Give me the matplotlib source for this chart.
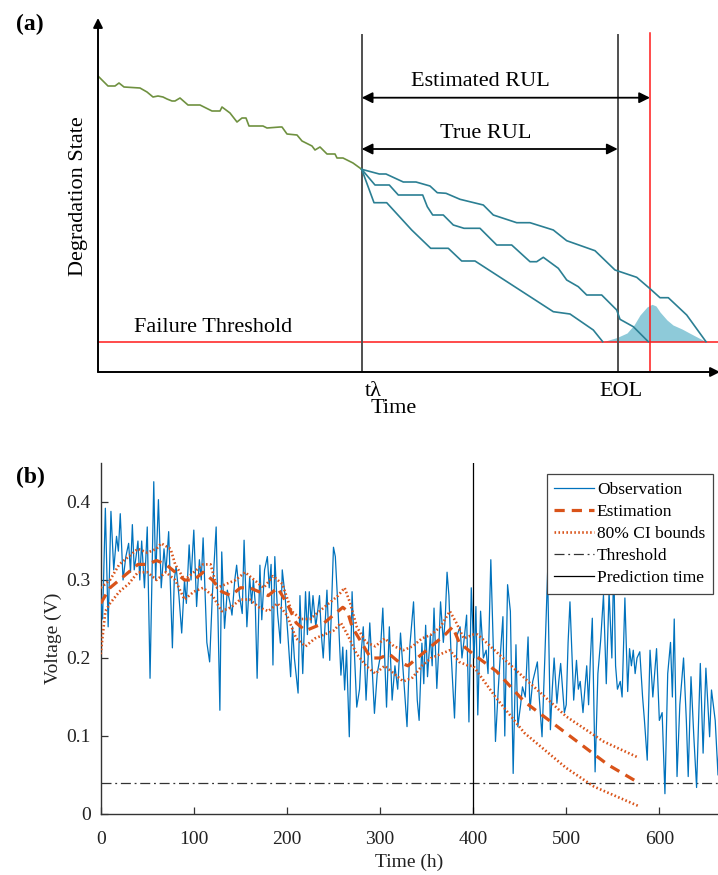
import matplotlib
matplotlib.use('Agg')
import matplotlib.pyplot as plt

plt.rcParams['font.family'] = ['Liberation Serif', 'DejaVu Serif']

# ---------------- Panel (a): schematic data (time units, state units) ----------------
hist_t = [0, 10, 17, 21, 26, 42, 49, 55, 60, 65, 69, 74, 77, 82, 90, 102, 114, 122, 124, 132,
          139, 144, 148, 151, 165, 169, 182, 184, 189, 199, 204, 214, 217, 222, 229, 237, 239,
          245, 255, 263.7]
hist_s = [296, 286, 286, 289, 285, 284, 280, 275, 276, 275, 273, 271, 271, 274, 267, 267, 261,
          261, 265, 259, 250, 254, 254, 246, 246, 244, 245, 245, 238, 237, 231, 226, 222, 225,
          218, 218, 214, 214, 209, 202.7]

path1_t = [263.7, 281.3, 288, 305.3, 318, 332, 339.3, 348, 362, 385.3, 395.3, 418.7, 432, 455.3,
           468.7, 497, 517, 538.7, 552, 562, 570.3, 588.7, 608]
path1_s = [202.7, 198, 198, 190, 190, 186, 179.3, 178.7, 172.7, 167, 157, 149.3, 149.3, 142,
           131.3, 121.3, 102, 94.7, 83.3, 74.3, 74.3, 57, 30.3]
path2_t = [263.7, 277, 291.3, 300.3, 324.7, 329.3, 334.7, 345.3, 355.3, 366, 382, 398.7, 413.7,
           432, 438.7, 445.3, 460.3, 468.7, 480.3, 488.7, 503.7, 518.7, 522, 535.3, 550.3]
path2_s = [202.7, 187, 187, 177, 177, 165.3, 157, 157, 147, 143.7, 143.7, 127, 127, 110.3,
           110.3, 114.7, 103.7, 92, 85.3, 77, 77, 62, 52.7, 45.3, 30.3]
path3_t = [263.7, 276, 288.7, 313.7, 332.7, 350.3, 363.7, 377, 455.3, 472, 495.3, 504.7]
path3_s = [202.7, 169.3, 169.3, 142, 123.7, 123.7, 111, 111, 60.3, 58, 42, 30.3]

pdf_t = [505, 509, 519, 529, 536, 542, 549, 554, 558, 562, 569, 575, 584, 592, 600, 608]
pdf_s = [30.3, 31.5, 34.5, 39, 47, 57, 65, 67.7, 66, 60, 52, 47, 43, 38.7, 34.5, 30.3]

threshold_a = 30.3
t_lambda = 263.7
t_eol = 519.7
t_est_eol = 552.0

# ---------------- Panel (b): battery voltage data ----------------
obs_time = [0, 2, 5, 8, 11, 14, 17, 19, 21, 24, 27, 30, 32, 34, 36, 38, 40, 42, 44, 47, 50, 53,
            57, 59, 62, 65, 68, 70, 73, 77, 79, 81, 84, 87, 90, 92, 95, 97, 100, 103, 106, 108,
            110, 114, 117, 120, 124, 128, 130, 133, 136, 139, 141, 144, 146, 149, 152, 154, 157,
            160, 162, 164, 166, 168, 171, 173, 176, 179, 181, 183, 185, 187, 190, 193, 195, 198,
            201, 204, 206, 208, 212, 214, 217, 220, 222, 224, 226, 228, 231, 235, 237, 239, 243,
            246, 250, 252, 255, 258, 260, 262, 264, 267, 270, 272, 275, 278, 280, 282, 285, 289,
            291, 294, 297, 300, 303, 307, 310, 313, 316, 319, 322, 325, 329, 332, 336, 340, 342,
            345, 347, 349, 351, 354, 356, 358, 361, 363, 365, 368, 370, 372, 374, 376, 380, 383,
            386, 388, 390, 393, 395.5, 398, 401, 403, 405, 408, 411, 414, 416, 419, 422, 424, 427,
            429, 432, 434, 437, 440, 443, 446, 448, 451, 453, 456, 459, 461, 464, 466, 469, 471,
            474, 477, 480, 483, 485, 487, 490, 492, 494, 498, 500, 502, 504, 508, 511, 513, 515,
            518, 520, 522, 524, 526, 528, 531, 534, 537, 540, 543, 546, 549, 551, 553, 555, 558,
            560, 563, 566, 568, 570, 572, 574, 576, 579, 582, 584, 587, 590, 593, 597, 600, 603,
            606, 609, 612, 614, 616, 619, 622, 624, 626, 629, 631, 634, 637, 640, 644, 647, 650,
            654, 656, 660, 663, 665]
obs_voltage = [0.28, 0.25, 0.392, 0.24, 0.388, 0.313, 0.356, 0.337, 0.385, 0.30, 0.33, 0.347,
               0.31, 0.371, 0.313, 0.33, 0.35, 0.30, 0.35, 0.29, 0.368, 0.174, 0.426, 0.30, 0.403,
               0.29, 0.34, 0.31, 0.362, 0.213, 0.30, 0.317, 0.28, 0.232, 0.30, 0.27, 0.345, 0.30,
               0.364, 0.266, 0.326, 0.30, 0.354, 0.22, 0.195, 0.283, 0.368, 0.133, 0.336, 0.238,
               0.287, 0.27, 0.255, 0.30, 0.319, 0.28, 0.257, 0.351, 0.24, 0.304, 0.27, 0.30, 0.27,
               0.174, 0.319, 0.249, 0.313, 0.33, 0.29, 0.32, 0.191, 0.33, 0.257, 0.219, 0.313,
               0.28, 0.23, 0.176, 0.24, 0.20, 0.155, 0.28, 0.18, 0.285, 0.23, 0.285, 0.245, 0.28,
               0.24, 0.28, 0.23, 0.20, 0.287, 0.197, 0.342, 0.33, 0.26, 0.178, 0.214, 0.159, 0.21,
               0.099, 0.285, 0.22, 0.137, 0.16, 0.21, 0.24, 0.146, 0.245, 0.20, 0.129, 0.18, 0.20,
               0.264, 0.137, 0.24, 0.146, 0.19, 0.16, 0.232, 0.18, 0.112, 0.215, 0.272, 0.146,
               0.12, 0.219, 0.167, 0.242, 0.176, 0.229, 0.19, 0.264, 0.161, 0.21, 0.272, 0.22,
               0.25, 0.31, 0.28, 0.214, 0.123, 0.23, 0.24, 0.20, 0.22, 0.255, 0.118, 0.29, 0.20,
               0.266, 0.127, 0.26, 0.20, 0.21, 0.18, 0.326, 0.20, 0.093, 0.16, 0.20, 0.253, 0.10,
               0.294, 0.26, 0.052, 0.217, 0.112, 0.14, 0.163, 0.15, 0.227, 0.133, 0.17, 0.18,
               0.195, 0.15, 0.099, 0.20, 0.31, 0.108, 0.16, 0.20, 0.142, 0.17, 0.193, 0.13, 0.14,
               0.22, 0.272, 0.146, 0.197, 0.16, 0.17, 0.13, 0.16, 0.19, 0.14, 0.20, 0.251, 0.054,
               0.18, 0.223, 0.281, 0.167, 0.285, 0.20, 0.32, 0.19, 0.16, 0.17, 0.15, 0.277, 0.157,
               0.212, 0.19, 0.21, 0.18, 0.20, 0.208, 0.15, 0.12, 0.069, 0.21, 0.15, 0.212, 0.12,
               0.13, 0.026, 0.18, 0.22, 0.15, 0.25, 0.048, 0.14, 0.17, 0.20, 0.12, 0.048, 0.176,
               0.10, 0.034, 0.193, 0.078, 0.187, 0.099, 0.159, 0.12, 0.05, 0.13]

est_time = [0, 5, 10, 20, 30, 40, 50, 60, 70, 80, 90, 100, 110, 120, 130, 140, 150, 160, 170,
            180, 190, 200, 210, 220, 230, 240, 250, 260, 265, 270, 280, 290, 300, 310, 320, 330,
            340, 350, 360, 370, 378, 385, 390, 400, 425, 455, 505, 545, 575]
est_voltage = [0.27, 0.28, 0.29, 0.30, 0.31, 0.32, 0.32, 0.325, 0.32, 0.31, 0.30, 0.30, 0.31,
               0.30, 0.285, 0.28, 0.29, 0.29, 0.285, 0.28, 0.29, 0.27, 0.245, 0.235, 0.24, 0.245,
               0.255, 0.265, 0.26, 0.24, 0.22, 0.20, 0.20, 0.205, 0.195, 0.19, 0.20, 0.21, 0.22,
               0.23, 0.24, 0.22, 0.215, 0.205, 0.183, 0.144, 0.099, 0.063, 0.042]

upper_time = [0, 10, 20, 30, 40, 50, 60, 65, 75, 80, 90, 100, 110, 118, 125, 135, 145, 155,
              165, 175, 185, 195, 205, 215, 225, 235, 245, 255, 262, 268, 275, 285, 295, 305,
              315, 325, 335, 345, 355, 365, 375, 382, 390, 400, 405, 450, 500, 540, 578]
upper_voltage = [0.29, 0.30, 0.32, 0.33, 0.34, 0.335, 0.34, 0.347, 0.34, 0.32, 0.30, 0.31,
                 0.32, 0.32, 0.29, 0.295, 0.30, 0.31, 0.30, 0.29, 0.305, 0.295, 0.26, 0.25, 0.25,
                 0.26, 0.27, 0.28, 0.29, 0.27, 0.24, 0.22, 0.215, 0.225, 0.215, 0.21, 0.215,
                 0.225, 0.23, 0.24, 0.26, 0.245, 0.225, 0.23, 0.23, 0.18, 0.125, 0.093, 0.072]

lower_time = [0, 5, 10, 20, 30, 40, 50, 60, 70, 80, 90, 100, 110, 120, 130, 140, 150, 160, 170,
              180, 190, 200, 210, 220, 230, 240, 250, 258, 265, 275, 285, 295, 305, 315, 325,
              335, 345, 355, 365, 375, 385, 395, 400, 424, 455, 500, 530, 578]
lower_voltage = [0.205, 0.26, 0.27, 0.285, 0.295, 0.31, 0.31, 0.30, 0.31, 0.30, 0.275, 0.285,
                 0.29, 0.28, 0.26, 0.265, 0.275, 0.275, 0.265, 0.26, 0.27, 0.255, 0.225, 0.215,
                 0.225, 0.23, 0.235, 0.245, 0.23, 0.205, 0.19, 0.18, 0.19, 0.18, 0.17, 0.175,
                 0.19, 0.20, 0.205, 0.21, 0.195, 0.19, 0.19, 0.15, 0.104, 0.059, 0.035, 0.01]

threshold_b = 0.04
prediction_time = 400
x_ticks = [0, 100, 200, 300, 400, 500, 600]
y_ticks = [0, 0.1, 0.2, 0.3, 0.4]
y_tick_labels = ['0', '0.1', '0.2', '0.3', '0.4']

# ---------------- Figure ----------------
W, H = 718, 875
fig = plt.figure(figsize=(W / 100, H / 100), dpi=100)

# Panel (a)
axa = fig.add_axes([98 / W, (H - 372) / H, 620 / W, 354 / H])
axa.set_xlim(0, 620)
axa.set_ylim(0, 354)
axa.axis('off')

teal = '#2b7f93'
axa.fill_between(pdf_t, threshold_a, pdf_s, color='#8ecad9', lw=0, zorder=1)
axa.plot(hist_t, hist_s, color='#6f9140', lw=1.2, zorder=3)
for pt, ps in ((path1_t, path1_s), (path2_t, path2_s), (path3_t, path3_s)):
    axa.plot(pt, ps, color=teal, lw=1.2, zorder=3)

axa.axhline(threshold_a, color='#ff1a1a', lw=1.1, zorder=2, clip_on=False)
axa.plot([t_est_eol, t_est_eol], [0, 339], color='#ff1a1a', lw=1.1, zorder=2)
axa.plot([t_lambda, t_lambda], [0, 337], color='#505050', lw=1.4, zorder=2)
axa.plot([t_eol, t_eol], [0, 337], color='#505050', lw=1.4, zorder=2)

# axis arrows
axa.annotate('', xy=(0, 354), xytext=(0, 0),
             arrowprops=dict(arrowstyle='-|>', color='black', lw=1.4, mutation_scale=14,
                             shrinkA=0, shrinkB=0), annotation_clip=False)
axa.annotate('', xy=(622, 0), xytext=(0, 0),
             arrowprops=dict(arrowstyle='-|>', color='black', lw=1.4, mutation_scale=14,
                             shrinkA=0, shrinkB=0), annotation_clip=False)

# RUL arrows
axa.annotate('', xy=(t_est_eol, 274.3), xytext=(t_lambda, 274.3),
             arrowprops=dict(arrowstyle='<|-|>', color='black', lw=1.3, mutation_scale=16,
                             shrinkA=0, shrinkB=0))
axa.annotate('', xy=(t_eol, 223), xytext=(t_lambda, 223),
             arrowprops=dict(arrowstyle='<|-|>', color='black', lw=1.3, mutation_scale=16,
                             shrinkA=0, shrinkB=0))

fs_a = 16
axa.text(382, 291, 'Estimated RUL', fontsize=fs_a, ha='center', va='center')
axa.text(388, 238, 'True RUL', fontsize=fs_a, ha='center', va='center')
axa.text(36, 44, 'Failure Threshold', fontsize=fs_a, ha='left', va='center')
axa.text(-19, 176, 'Degradation State', fontsize=fs_a, ha='center', va='center',
         rotation=90, clip_on=False)
axa.text(275, -10, 'tλ', fontsize=fs_a, ha='center', va='top', clip_on=False)
axa.text(296, -27, 'Time', fontsize=fs_a, ha='center', va='top', clip_on=False)
axa.text(523, -10, 'EOL', fontsize=fs_a, ha='center', va='top', clip_on=False)
fig.text(16 / W, 1 - 24 / H, '(a)', fontsize=17, fontweight='bold', ha='left', va='center')

# Panel (b)
axb = fig.add_axes([100.7 / W, (H - 814) / H, (W - 100.7) / W, 351 / H])
axb.plot(obs_time, obs_voltage, color='#0072bd', lw=0.9, label='Observation', zorder=3)
axb.plot(est_time, est_voltage, color='#d95319', lw=2.3, ls=(0, (3.2, 2.2)),
         label='Estimation', zorder=4)
axb.plot(upper_time, upper_voltage, color='#d95319', lw=1.9, ls=(0, (0.6, 0.9)),
         label='80% CI bounds', zorder=4)
axb.plot(lower_time, lower_voltage, color='#d95319', lw=1.9, ls=(0, (0.6, 0.9)), zorder=4)
axb.axhline(threshold_b, color='#333333', lw=0.9, ls=(0, (8, 3, 1.5, 3)), label='Threshold',
            zorder=2)
axb.axvline(prediction_time, color='black', lw=0.9, label='Prediction time', zorder=2)

axb.set_xlim(0, 663)
axb.set_ylim(0, 0.45)
axb.set_xticks(x_ticks)
axb.set_yticks(y_ticks)
axb.set_yticklabels(y_tick_labels)
for side in ('top', 'right'):
    axb.spines[side].set_visible(False)
for side in ('left', 'bottom'):
    axb.spines[side].set_color('#333333')
    axb.spines[side].set_linewidth(1.0)
axb.tick_params(direction='in', length=5, width=0.9, colors='#333333', labelsize=14,
                labelcolor='#222222')
axb.tick_params(axis='x', pad=12)
axb.tick_params(axis='y', pad=7)
axb.set_xlabel('Time (h)', fontsize=14, color='#222222', labelpad=4)
axb.set_ylabel('Voltage (V)', fontsize=14, color='#222222', labelpad=3)

leg = axb.legend(loc='upper right', bbox_to_anchor=(713 / W, 1 - 474 / H),
                 bbox_transform=fig.transFigure, fontsize=12.5, frameon=True, fancybox=False,
                 framealpha=1, edgecolor='#444444', borderaxespad=0, handlelength=2.3,
                 handletextpad=0.15, labelspacing=0.34, borderpad=0.45)
leg.get_frame().set_linewidth(0.9)

fig.text(16 / W, 1 - 477 / H, '(b)', fontsize=17, fontweight='bold', ha='left', va='center')

fig.savefig('out.png', dpi=100)
